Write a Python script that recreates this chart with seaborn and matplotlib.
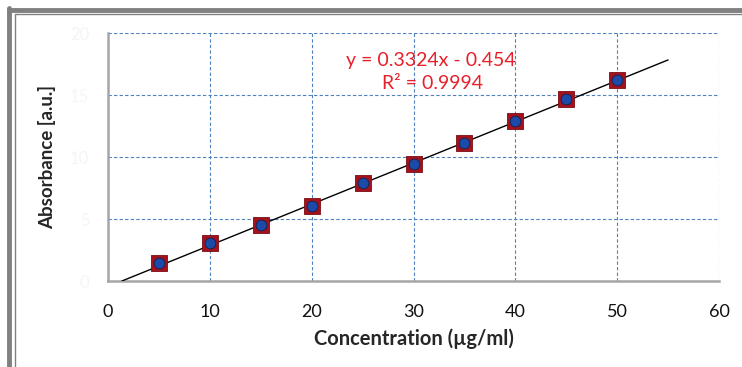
import matplotlib
matplotlib.use("Agg")
import matplotlib.pyplot as plt
from matplotlib.lines import Line2D
from matplotlib.ticker import MultipleLocator
import numpy as np
import pandas as pd
import seaborn as sns

# calibration data
concentration = [5, 10, 15, 20, 25, 30, 35, 40, 45, 50]
absorbance = [1.43, 3.04, 4.52, 6.07, 7.88, 9.41, 11.1, 12.93, 14.65, 16.2]

# trend line as printed on the chart
slope = 0.3324
intercept = -0.454
r_squared = 0.9994
fit_end = 55

sns.set_style("white")
plt.rcParams['font.family'] = ['Lato', 'DejaVu Sans']

df = pd.DataFrame({'Concentration': concentration, 'Absorbance': absorbance})
fit_x = [-intercept / slope, fit_end]
fit = pd.DataFrame({'Concentration': fit_x,
                    'Absorbance': [slope * x + intercept for x in fit_x]})

fig = plt.figure(figsize=(7.42, 3.67), dpi=100)
ax = fig.add_axes([108 / 742, 1 - 281 / 367, 611 / 742, 248 / 367])

sns.lineplot(data=fit, x='Concentration', y='Absorbance', ax=ax, color='black', linewidth=1.0, zorder=3)
sns.scatterplot(data=df, x='Concentration', y='Absorbance', ax=ax, marker='s', s=140,
                color='#a3121c', edgecolor='#7a0d14', linewidth=0.6, zorder=4)
sns.scatterplot(data=df, x='Concentration', y='Absorbance', ax=ax, marker='o', s=60,
                color='#1c4aa8', edgecolor='#0d2250', linewidth=0.6, zorder=5)

ax.set_xlim(0, 60)
ax.set_ylim(0, 20)
ax.xaxis.set_major_locator(MultipleLocator(10))
ax.xaxis.set_minor_locator(MultipleLocator(5))
ax.yaxis.set_major_locator(MultipleLocator(5))
ax.yaxis.set_minor_locator(MultipleLocator(1))

ax.grid(True, which='major', color='#4f81bd', linestyle=(0, (3, 2)), linewidth=0.8)
ax.set_axisbelow(True)

for side in ['top', 'right']:
    ax.spines[side].set_visible(False)
for side in ['left', 'bottom']:
    ax.spines[side].set_color('#a6a6a6')
    ax.spines[side].set_linewidth(1.8)

ax.tick_params(axis='x', which='major', direction='inout', length=9, width=1, color='#707070',
               labelsize=13, pad=12, labelcolor='#111111')
ax.tick_params(axis='x', which='minor', direction='in', length=4, width=1, color='#707070')
ax.tick_params(axis='y', which='major', direction='inout', length=11, width=1, color='#707070',
               labelsize=12, pad=8, labelcolor='#f5f5f5')
ax.tick_params(axis='y', which='minor', direction='in', length=4, width=1, color='#707070')

ax.set_xlabel('Concentration (µg/ml)', fontsize=14.5, fontweight='bold', labelpad=6)
ax.set_ylabel('Absorbance [a.u.]', fontsize=13.5, fontweight='bold', labelpad=10)

ax.text(0.529, 0.891, 'y = {}x - {}'.format(slope, -intercept), transform=ax.transAxes,
        ha='center', va='center', color='#e8202a', fontsize=14)
ax.text(0.531, 0.798, 'R² = {}'.format(r_squared), transform=ax.transAxes,
        ha='center', va='center', color='#e8202a', fontsize=14)

# double grey frame around the figure
frame_color = '#808080'
fig.add_artist(Line2D([9 / 742, 9 / 742], [0, 1 - 8 / 367], color=frame_color, linewidth=3.5))
fig.add_artist(Line2D([9 / 742, 1.0], [1 - 10 / 367, 1 - 10 / 367], color=frame_color, linewidth=3.5))
fig.add_artist(Line2D([15 / 742, 15 / 742], [0, 1 - 14 / 367], color=frame_color, linewidth=1.0))
fig.add_artist(Line2D([15 / 742, 1.0], [1 - 14 / 367, 1 - 14 / 367], color=frame_color, linewidth=1.0))

fig.savefig('out.png', dpi=100)
